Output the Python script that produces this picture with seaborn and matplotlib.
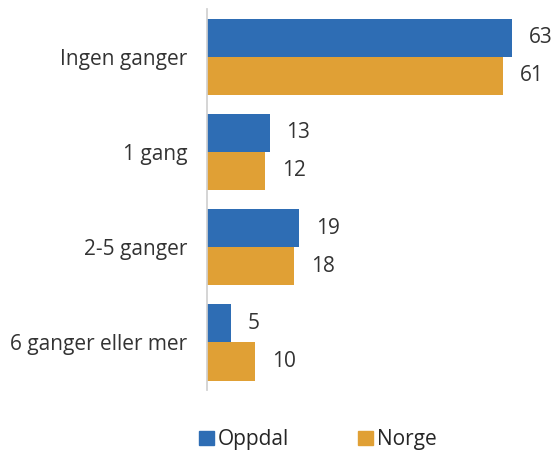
import pandas as pd
import matplotlib.pyplot as plt
import seaborn as sns

categories = ['Ingen ganger', '1 gang', '2-5 ganger', '6 ganger eller mer']
oppdal = [63, 13, 19, 5]
norge = [61, 12, 18, 10]
series = ['Oppdal', 'Norge']

df = pd.DataFrame({
    'Kategori': categories * 2,
    'Verdi': oppdal + norge,
    'Sted': [series[0]] * len(categories) + [series[1]] * len(categories),
})

sns.set_theme(style='white')
plt.rcParams['font.family'] = ['Open Sans', 'DejaVu Sans']

colors = ['#2E6DB4', '#E0A035']

fig = plt.figure(figsize=(5.53, 4.51), dpi=100)
ax = fig.add_axes([0.374, 0.135, 0.614, 0.845])

sns.barplot(data=df, y='Kategori', x='Verdi', hue='Sted', palette=colors,
            orient='h', width=0.8, saturation=1, ax=ax, legend=False,
            linewidth=0)

for cont in ax.containers:
    ax.bar_label(cont, padding=12, fontsize=15, color='#333333')

ax.set_xlim(0, 70)
ax.set_xlabel('')
ax.set_ylabel('')
ax.set_xticks([])
ax.tick_params(axis='y', labelsize=15, colors='#333333', length=0, pad=14)
for s in ['top', 'right', 'bottom']:
    ax.spines[s].set_visible(False)
ax.spines['left'].set_color('#d0d0d0')

handles = [plt.Rectangle((0, 0), 1, 1, color=c) for c in colors]
fig.legend(handles, series, loc='lower center', ncol=2, frameon=False,
           fontsize=15, handlelength=0.7, handleheight=0.7, handletextpad=0.2,
           columnspacing=3.3, bbox_to_anchor=(0.575, -0.04))

fig.savefig('out.png', dpi=100)
